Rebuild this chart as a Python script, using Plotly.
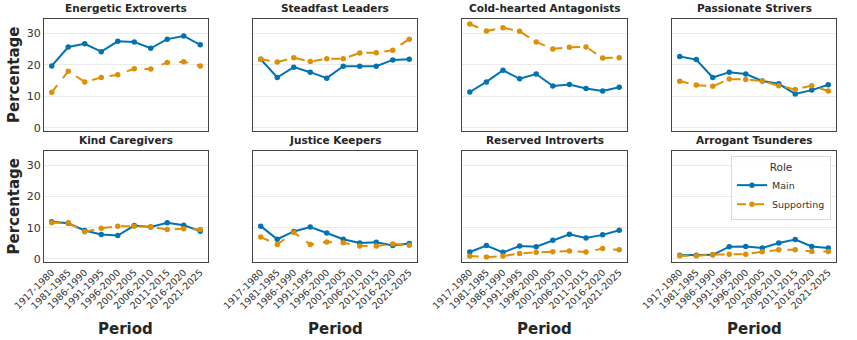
import plotly.graph_objects as go

periods = ["1917-1980", "1981-1985", "1986-1990", "1991-1995", "1996-2000",
           "2001-2005", "2006-2010", "2011-2015", "2016-2020", "2021-2025"]

titles = ["Energetic Extroverts", "Steadfast Leaders", "Cold-hearted Antagonists", "Passionate Strivers",
          "Kind Caregivers", "Justice Keepers", "Reserved Introverts", "Arrogant Tsunderes"]

energetic_main = [19.7, 25.7, 26.7, 24.2, 27.5, 27.3, 25.3, 28.2, 29.2, 26.4]
energetic_supp = [11.3, 18.0, 14.6, 16.0, 16.9, 18.8, 18.7, 20.8, 21.0, 19.7]
steadfast_main = [21.8, 16.0, 19.3, 17.7, 15.8, 19.6, 19.6, 19.6, 21.6, 21.8]
steadfast_supp = [21.8, 20.9, 22.3, 21.1, 22.0, 22.0, 23.8, 23.9, 24.7, 28.2]
cold_main = [11.4, 14.6, 18.3, 15.6, 17.1, 13.3, 13.8, 12.5, 11.7, 12.9]
cold_supp = [33.0, 30.8, 31.8, 30.7, 27.3, 25.1, 25.6, 25.7, 22.2, 22.3]
passionate_main = [22.7, 21.7, 16.0, 17.7, 17.1, 14.9, 14.0, 10.8, 12.0, 13.7]
passionate_supp = [14.8, 13.6, 13.2, 15.5, 15.4, 14.9, 13.4, 12.2, 13.4, 11.7]
kind_main = [11.9, 11.4, 9.1, 7.8, 7.5, 10.7, 10.2, 11.6, 10.8, 8.9]
kind_supp = [11.6, 11.6, 8.7, 9.8, 10.5, 10.5, 10.3, 9.4, 9.7, 9.4]
justice_main = [10.5, 6.3, 8.8, 10.2, 8.3, 6.3, 5.1, 5.3, 4.3, 4.9]
justice_supp = [7.0, 4.6, 8.5, 4.6, 5.4, 5.2, 4.1, 4.1, 4.8, 4.4]
reserved_main = [2.2, 4.3, 2.1, 4.1, 3.9, 6.0, 7.9, 6.7, 7.7, 9.2]
reserved_supp = [0.9, 0.6, 0.9, 1.7, 2.1, 2.3, 2.5, 2.2, 3.3, 2.9]
arrogant_main = [1.2, 1.2, 1.3, 3.9, 4.0, 3.5, 5.1, 6.2, 4.0, 3.5]
arrogant_supp = [1.0, 1.0, 1.4, 1.5, 1.5, 2.3, 2.9, 2.9, 2.4, 2.4]

main_series = [energetic_main, steadfast_main, cold_main, passionate_main,
               kind_main, justice_main, reserved_main, arrogant_main]
supp_series = [energetic_supp, steadfast_supp, cold_supp, passionate_supp,
               kind_supp, justice_supp, reserved_supp, arrogant_supp]

y_ticks = [0, 10, 20, 30]

MAIN_C = "#0173b2"
SUPP_C = "#de8f05"
W, H = 857, 340
FONT = "DejaVu Sans"

col_px = [(44, 208), (253, 417), (462, 627), (672, 836)]
row_px = [(19, 131), (151, 262)]

fig = go.Figure()
layout = dict(
    width=W, height=H, margin=dict(l=0, r=0, t=0, b=0),
    paper_bgcolor="white", plot_bgcolor="white",
    font=dict(family=FONT, color="#333333"),
    showlegend=True,
)
annotations = []

for i in range(8):
    r, c = divmod(i, 4)
    n = i + 1
    xa = "x" if n == 1 else f"x{n}"
    ya = "y" if n == 1 else f"y{n}"
    x0, x1 = col_px[c]
    y0, y1 = row_px[r]
    layout[f"xaxis{'' if n == 1 else n}"] = dict(
        domain=[x0 / W, x1 / W], anchor=ya,
        type="category", categoryorder="array", categoryarray=periods,
        range=[-0.47, 9.47],
        showgrid=False, zeroline=False,
        showline=True, mirror=True, linecolor="#444444", linewidth=1.2,
        ticks="", showticklabels=(r == 1), tickangle=-45,
        tickfont=dict(size=9.5, color="#333333", family=FONT),
        automargin=False,
    )
    layout[f"yaxis{'' if n == 1 else n}"] = dict(
        domain=[1 - y1 / H, 1 - y0 / H], anchor=xa,
        range=[-1.0, 34.6], tickvals=y_ticks,
        showgrid=True, gridcolor="#ebebeb", gridwidth=1, zeroline=False,
        showline=True, mirror=True, linecolor="#444444", linewidth=1.2,
        ticks="", showticklabels=(c == 0),
        tickfont=dict(size=11, color="#333333", family=FONT),
        automargin=False,
    )
    fig.add_trace(go.Scatter(
        x=periods, y=main_series[i], xaxis=xa, yaxis=ya, mode="lines+markers",
        name="Main", legendgroup="Main", showlegend=(i == 7),
        line=dict(color=MAIN_C, width=2), marker=dict(size=5.5, color=MAIN_C),
    ))
    fig.add_trace(go.Scatter(
        x=periods, y=supp_series[i], xaxis=xa, yaxis=ya, mode="lines+markers",
        name="Supporting", legendgroup="Supporting", showlegend=(i == 7),
        line=dict(color=SUPP_C, width=2, dash="dash"), marker=dict(size=5.5, color=SUPP_C),
    ))
    annotations.append(dict(
        text=f"<b>{titles[i]}</b>", xref="paper", yref="paper",
        x=(x0 + x1) / 2 / W, y=1 - (y0 - 3) / H, xanchor="center", yanchor="bottom",
        showarrow=False, font=dict(size=10.5, color="#262626", family=FONT),
    ))
    if c == 0:
        annotations.append(dict(
            text="<b>Percentage</b>", xref="paper", yref="paper",
            x=14 / W, y=1 - (y0 + y1) / 2 / H, xanchor="center", yanchor="middle",
            textangle=-90, showarrow=False, font=dict(size=15, color="#262626", family=FONT),
        ))
    if r == 1:
        annotations.append(dict(
            text="<b>Period</b>", xref="paper", yref="paper",
            x=(x0 + x1) / 2 / W, y=1 - 329 / H, xanchor="center", yanchor="middle",
            showarrow=False, font=dict(size=15, color="#262626", family=FONT),
        ))

layout["annotations"] = annotations
layout["legend"] = dict(
    x=831 / W, y=1 - 156 / H, xanchor="right", yanchor="top",
    bgcolor="rgba(255,255,255,0.85)", bordercolor="#d9d9d9", borderwidth=1,
    font=dict(size=9.5, color="#333333", family=FONT),
    title=dict(text="Role", side="top center", font=dict(size=10.5, color="#333333", family=FONT)),
    tracegroupgap=0, itemwidth=30,
)
fig.update_layout(**layout)
fig.write_html("out.html")
